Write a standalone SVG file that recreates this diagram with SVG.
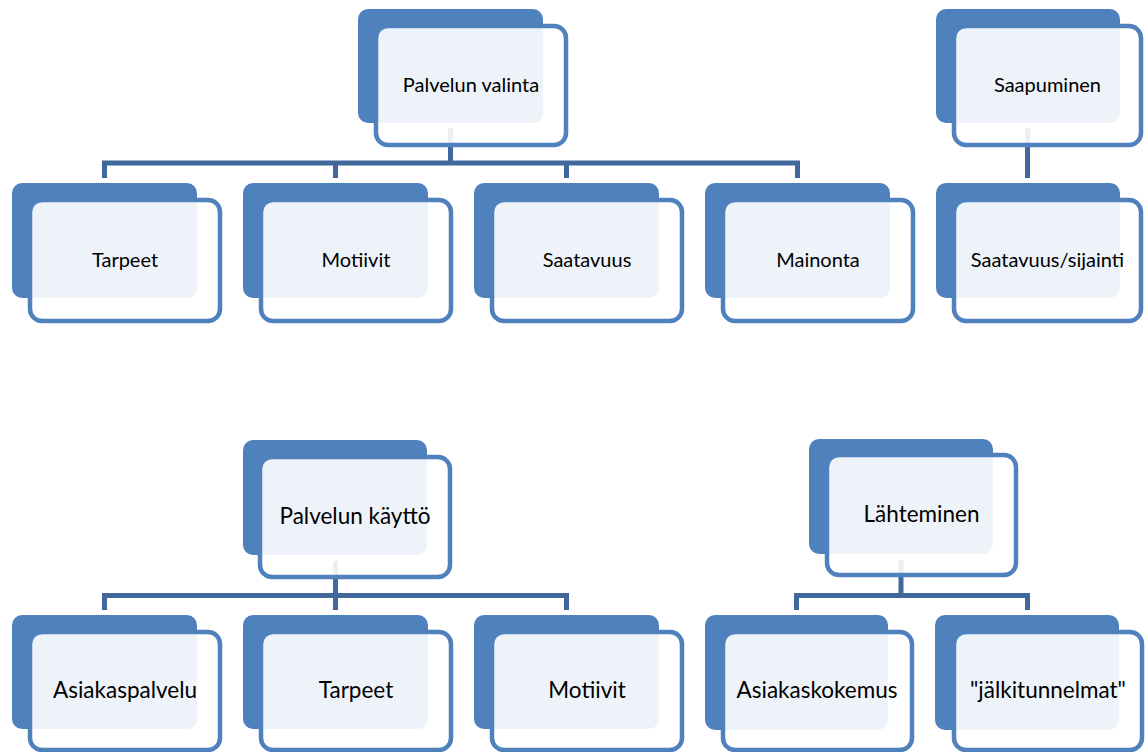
<svg xmlns="http://www.w3.org/2000/svg" width="1146" height="752" viewBox="0 0 1146 752">
<style>
.back{fill:#4F81BD}
.front{fill:#FFFFFF;fill-opacity:0.9;stroke:#4F81BD;stroke-width:4.5}
.conn{fill:none;stroke:#41689C;stroke-width:5;stroke-linejoin:miter;stroke-linecap:butt}
.t{font-family:Lato,"Open Sans","Liberation Sans",sans-serif;fill:#000;text-anchor:middle}
.s{font-size:20px}
.b{font-size:22.5px}
</style>
<rect width="1146" height="752" fill="#FFFFFF"/>
<g id="connectors">
<path class="conn" d="M450.5 128 V163"/>
<path class="conn" d="M104.5 178 V163 H797.5 V178 M335.5 163 V178 M566.5 163 V178"/>
<path class="conn" d="M1027.5 128 V178"/>
<path class="conn" d="M335.5 561 V610"/>
<path class="conn" d="M104.5 610 V595.5 H566.5 V610"/>
<path class="conn" d="M901 560 V595.5"/>
<path class="conn" d="M796.5 610 V595.5 H1027.5 V610"/>
</g>
<g id="palvelun-valinta">
<rect class="back" x="358" y="9" width="185" height="114" rx="10"/>
<rect class="front" x="376" y="26" width="190" height="119" rx="12"/>
<text class="t s" x="471" y="92">Palvelun valinta</text>
</g>
<g id="tarpeet-1">
<rect class="back" x="12" y="183" width="185" height="115" rx="10"/>
<rect class="front" x="30" y="200" width="190" height="121" rx="12"/>
<text class="t s" x="125" y="267">Tarpeet</text>
</g>
<g id="motiivit-1">
<rect class="back" x="243" y="183" width="185" height="115" rx="10"/>
<rect class="front" x="261" y="200" width="190" height="121" rx="12"/>
<text class="t s" x="356" y="267">Motiivit</text>
</g>
<g id="saatavuus">
<rect class="back" x="474" y="183" width="185" height="115" rx="10"/>
<rect class="front" x="492" y="200" width="190" height="121" rx="12"/>
<text class="t s" x="587" y="267">Saatavuus</text>
</g>
<g id="mainonta">
<rect class="back" x="705" y="183" width="185" height="115" rx="10"/>
<rect class="front" x="723" y="200" width="190" height="121" rx="12"/>
<text class="t s" x="818" y="267">Mainonta</text>
</g>
<g id="saapuminen">
<rect class="back" x="936" y="9" width="184" height="114" rx="10"/>
<rect class="front" x="954" y="26" width="187" height="119" rx="12"/>
<text class="t s" x="1047.5" y="92">Saapuminen</text>
</g>
<g id="saatavuus-sijainti">
<rect class="back" x="936" y="183" width="184" height="115" rx="10"/>
<rect class="front" x="954" y="200" width="187" height="121" rx="12"/>
<text class="t s" x="1047.5" y="267">Saatavuus/sijainti</text>
</g>
<g id="palvelun-kaytto">
<rect class="back" x="243" y="440" width="184" height="115" rx="10"/>
<rect class="front" x="260" y="457" width="190" height="120" rx="12"/>
<text class="t b" x="355" y="524">Palvelun käyttö</text>
</g>
<g id="asiakaspalvelu">
<rect class="back" x="12" y="615" width="185" height="114" rx="10"/>
<rect class="front" x="30" y="632" width="190" height="118" rx="12"/>
<text class="t b" x="125" y="698">Asiakaspalvelu</text>
</g>
<g id="tarpeet-2">
<rect class="back" x="243" y="615" width="185" height="114" rx="10"/>
<rect class="front" x="261" y="632" width="190" height="118" rx="12"/>
<text class="t b" x="356" y="698">Tarpeet</text>
</g>
<g id="motiivit-2">
<rect class="back" x="474" y="615" width="185" height="114" rx="10"/>
<rect class="front" x="492" y="632" width="190" height="118" rx="12"/>
<text class="t b" x="587" y="698">Motiivit</text>
</g>
<g id="lahteminen">
<rect class="back" x="809" y="439" width="184" height="115" rx="10"/>
<rect class="front" x="827" y="455" width="189" height="120" rx="12"/>
<text class="t b" x="921.5" y="522">Lähteminen</text>
</g>
<g id="asiakaskokemus">
<rect class="back" x="705" y="615" width="183" height="115" rx="10"/>
<rect class="front" x="723" y="632" width="189" height="118" rx="12"/>
<text class="t b" x="817" y="698">Asiakaskokemus</text>
</g>
<g id="jalkitunnelmat">
<rect class="back" x="935" y="615" width="184" height="115" rx="10"/>
<rect class="front" x="954" y="632" width="188" height="118" rx="12"/>
<text class="t b" x="1048" y="698">"jälkitunnelmat"</text>
</g>
</svg>
